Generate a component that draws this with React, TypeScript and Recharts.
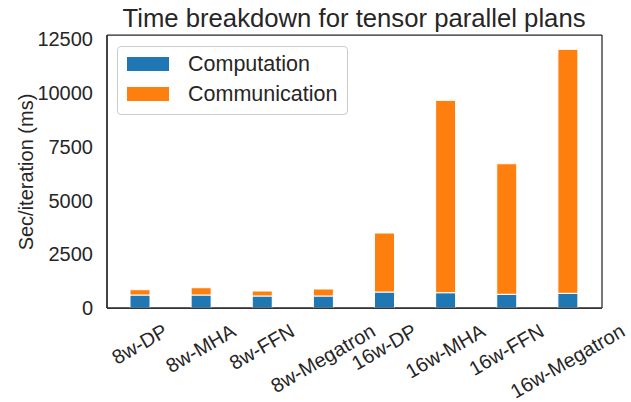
import { BarChart, Bar, XAxis, YAxis, Legend, CartesianGrid } from 'recharts';

const categories = ['8w-DP', '8w-MHA', '8w-FFN', '8w-Megatron', '16w-DP', '16w-MHA', '16w-FFN', '16w-Megatron'];
const computation = [604, 604, 558, 558, 743, 711, 637, 683];
const communication = [246, 339, 232, 325, 2742, 8941, 6068, 11338];
const yTicks = [0, 2500, 5000, 7500, 10000, 12500];

const data = categories.map((name, i) => ({
    name,
    computation: computation[i],
    communication: communication[i],
}));

const FONT = "'Liberation Sans', Arial, Helvetica, sans-serif";
const TEXT = '#262626';
const BLUE = '#1f77b4';
const ORANGE = '#ff7f0e';

let ctx: CanvasRenderingContext2D | null = null;
function textWidth(s: string, size: number) {
    if (!ctx) ctx = document.createElement('canvas').getContext('2d');
    if (!ctx) return s.length * size * 0.55;
    ctx.font = `${size}px ${FONT}`;
    return ctx.measureText(s).width;
}

// rotated 30deg tick, centred under the tick like matplotlib's ha='center'
function XTick({ x, payload }: any) {
    const w = textWidth(payload.value, 20);
    const cy = 329 + w / 4;
    return (
        <text
            x={x}
            y={cy}
            dy="0.35em"
            textAnchor="middle"
            transform={`rotate(-30 ${x} ${cy})`}
            fontSize={20}
            fontFamily={FONT}
            fill={TEXT}
        >
            {payload.value}
        </text>
    );
}

function LegendBox() {
    const items = [
        { label: 'Computation', color: BLUE },
        { label: 'Communication', color: ORANGE },
    ];
    return (
        <div
            style={{
                width: 231,
                height: 69,
                border: '1px solid #cccccc',
                borderRadius: 4,
                background: 'rgba(255,255,255,0.8)',
                boxSizing: 'border-box',
                padding: '2px 0 0 9px',
                fontFamily: FONT,
                fontSize: 21.5,
                color: TEXT,
                textAlign: 'left',
            }}
        >
            {items.map((it) => (
                <div key={it.label} style={{ display: 'flex', alignItems: 'center', height: 30.3 }}>
                    <span style={{ display: 'inline-block', width: 42, height: 14, background: it.color, marginRight: 19 }} />
                    <span style={{ lineHeight: '24px' }}>{it.label}</span>
                </div>
            ))}
        </div>
    );
}

export default function App() {
    return (
        <div style={{ position: 'absolute', left: 0, top: 0, width: 631, height: 402, background: '#fff' }}>
            <BarChart
                width={631}
                height={402}
                data={data}
                margin={{ top: 35, right: 29, left: 0, bottom: 0 }}
                barSize={20}
            >
                <CartesianGrid
                    stroke={TEXT}
                    strokeWidth={1.25}
                    horizontalCoordinatesGenerator={({ offset }: any) => [offset.top, offset.top + offset.height]}
                    verticalCoordinatesGenerator={({ offset }: any) => [offset.left, offset.left + offset.width]}
                />
                <XAxis
                    dataKey="name"
                    height={94}
                    interval={0}
                    padding={{ left: 2, right: 4 }}
                    tickLine={false}
                    axisLine={{ stroke: TEXT, strokeWidth: 1.25 }}
                    tick={<XTick />}
                />
                <YAxis
                    width={107}
                    domain={[0, 12690]}
                    ticks={yTicks}
                    allowDataOverflow
                    tickLine={false}
                    tickMargin={8}
                    axisLine={{ stroke: TEXT, strokeWidth: 1.25 }}
                    tick={{ fill: TEXT, fontSize: 20, fontFamily: FONT }}
                    label={() => (
                        <text
                            x={0}
                            y={0}
                            transform="translate(32.5 172) rotate(-90)"
                            textAnchor="middle"
                            fontSize={20}
                            fontFamily={FONT}
                            fill={TEXT}
                        >
                            Sec/iteration (ms)
                        </text>
                    )}
                />
                <Legend
                    layout="vertical"
                    align="center"
                    verticalAlign="middle"
                    content={() => <LegendBox />}
                    wrapperStyle={{ position: 'absolute', left: 117, top: 46, width: 'auto', height: 'auto' }}
                />
                <Bar
                    dataKey="computation"
                    name="Computation"
                    stackId="a"
                    fill={BLUE}
                    stroke="#ffffff"
                    strokeWidth={1}
                    isAnimationActive={false}
                />
                <Bar
                    dataKey="communication"
                    name="Communication"
                    stackId="a"
                    fill={ORANGE}
                    stroke="#ffffff"
                    strokeWidth={1}
                    isAnimationActive={false}
                />
            </BarChart>
            <svg width={631} height={40} style={{ position: 'absolute', left: 0, top: 0, pointerEvents: 'none' }}>
                <text x={354} y={27} textAnchor="middle" fontSize={25.7} fontFamily={FONT} fill={TEXT}>
                    Time breakdown for tensor parallel plans
                </text>
            </svg>
        </div>
    );
}
